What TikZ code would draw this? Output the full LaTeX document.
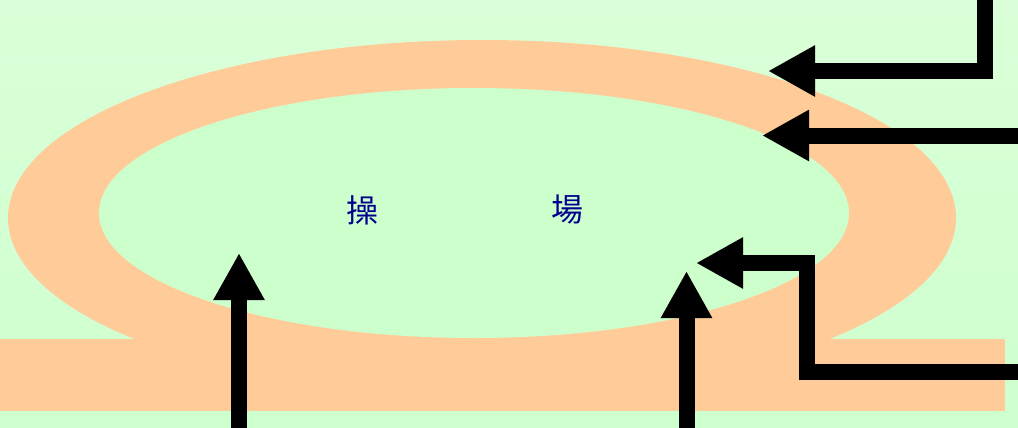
\documentclass[tikz,border=0pt]{standalone}
\usepackage{fontspec}
\newfontfamily\cjk{Noto Sans CJK TC}
\usetikzlibrary{arrows.meta}

\definecolor{bgtop}{RGB}{218,255,216}
\definecolor{bgbot}{RGB}{206,255,206}
\definecolor{field}{RGB}{204,255,204}
\definecolor{track}{RGB}{255,204,153}
\definecolor{label}{RGB}{0,0,140}

\tikzset{every picture/.style={line width=0.75pt}}
\tikzset{
  pointer/.style={line width=16, line join=miter, line cap=butt,
    -{Triangle[length=47pt,width=48pt]}},
  word/.style={text=label, font=\cjk\fontsize{32}{32}\selectfont, inner sep=0pt}
}

\begin{document}
\begin{tikzpicture}[x=1pt,y=1pt,yscale=-1,xscale=1]

\useasboundingbox (0,0) rectangle (1018,428);
\shade [top color=bgtop, bottom color=bgbot] (0,0) rectangle (1018,428);

% running track
\fill [track] (482,218) ellipse [x radius=474, y radius=178];
\fill [track] (0,339) rectangle (1005,411);
\fill [field] (474,213) ellipse [x radius=375, y radius=125];

\node [word] (cao) at (362,210) {操};
\node [word] (chang) at (567,210) {場};

% arrow ends
\coordinate (a1s) at (984.5,0);
\coordinate (a1c) at (984.5,71);
\coordinate (a1t) at (768,71);
\coordinate (a2s) at (1018,135.5);
\coordinate (a2t) at (762,135.5);
\coordinate (a3s) at (1018,372);
\coordinate (a3c1) at (807,372);
\coordinate (a3c2) at (807,263);
\coordinate (a3t) at (696,263);
\coordinate (a4s) at (686.5,428);
\coordinate (a4t) at (686.5,271);
\coordinate (a5s) at (239,428);
\coordinate (a5t) at (239,253);

\draw [pointer] (a1s) -- (a1c) -- (a1t);
\draw [pointer] (a2s) -- (a2t);
\draw [pointer] (a3s) -- (a3c1) -- (a3c2) -- (a3t);
\draw [pointer] (a4s) -- (a4t);
\draw [pointer] (a5s) -- (a5t);

\end{tikzpicture}
\end{document}
